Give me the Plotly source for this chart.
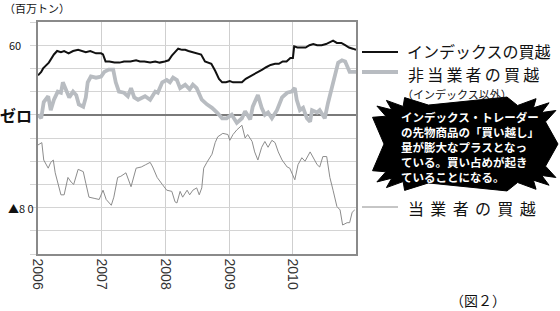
import math
import plotly.graph_objects as go

# ---------------- data (years since 2006, million tons) ----------------
idx_t = [0.00, 0.05, 0.08, 0.14, 0.17, 0.25, 0.30, 0.36, 0.41, 0.48, 0.55, 0.63, 0.70, 0.75, 0.82,
         0.91, 0.99, 1.02, 1.06, 1.12, 1.20, 1.28, 1.35, 1.45, 1.54, 1.60, 1.67, 1.76, 1.84, 1.91,
         1.99, 2.05, 2.10, 2.16, 2.20, 2.26, 2.31, 2.36, 2.42, 2.50, 2.56, 2.62, 2.67, 2.72, 2.78,
         2.84, 2.89, 2.95, 3.01, 3.06, 3.13, 3.20, 3.26, 3.33, 3.40, 3.45, 3.52, 3.58, 3.65, 3.72,
         3.78, 3.84, 3.90, 3.96, 4.00, 4.02, 4.07, 4.14, 4.20, 4.26, 4.32, 4.38, 4.45, 4.52, 4.58,
         4.63, 4.69, 4.76, 4.82, 4.88, 4.94, 4.99]
idx_v = [34, 37, 40, 43, 45, 52, 55, 54, 55, 53, 55, 56, 55, 54, 55,
         53, 53, 52, 46, 46, 45, 45, 46, 46, 47, 46, 46, 45, 46, 45,
         46, 47, 51, 55, 57, 56, 56, 55, 54, 53, 52, 46, 45, 44, 38,
         31, 28, 28, 29, 28, 28, 28, 31, 33, 35, 37, 39, 41, 43, 44,
         44, 46, 46, 49, 49, 59, 58, 58, 58, 60, 61, 60, 60, 61, 63,
         64, 62, 62, 60, 58, 57, 56]

nc_t = [0.00, 0.05, 0.09, 0.16, 0.20, 0.25, 0.31, 0.36, 0.39, 0.44, 0.49, 0.55, 0.60, 0.64, 0.71,
        0.75, 0.78, 0.83, 0.91, 0.99, 1.04, 1.11, 1.18, 1.22, 1.27, 1.35, 1.41, 1.46, 1.51, 1.57,
        1.65, 1.68, 1.76, 1.84, 1.88, 1.95, 2.02, 2.07, 2.12, 2.18, 2.23, 2.31, 2.38, 2.43, 2.49,
        2.57, 2.65, 2.73, 2.81, 2.89, 2.96, 3.04, 3.12, 3.20, 3.25, 3.33, 3.37, 3.45, 3.51, 3.56,
        3.61, 3.67, 3.75, 3.83, 3.91, 3.98, 4.03, 4.06, 4.11, 4.16, 4.22, 4.27, 4.30, 4.38, 4.42,
        4.50, 4.55, 4.61, 4.66, 4.71, 4.77, 4.82, 4.89, 4.94, 4.99]
nc_v = [0, -3, 11, 16, 4, 13, 20, 19, 28, 22, 15, 20, 17, 9, 7,
        15, 28, 33, 32, 33, 37, 39, 39, 28, 20, 19, 16, 23, 15, 13,
        15, 16, 13, 20, 19, 28, 30, 28, 32, 30, 23, 26, 22, 26, 23,
        13, 9, 6, 2, -3, -3, 0, -7, -3, 3, -4, 7, 17, 6, 0,
        2, -3, 4, 15, 19, 20, 23, 13, 4, 6, -3, -6, 4, 2, 4,
        -3, 10, 24, 36, 45, 47, 46, 37, 37, 37]

com_t = [0.00, 0.06, 0.09, 0.16, 0.20, 0.24, 0.27, 0.31, 0.36, 0.41, 0.47, 0.52, 0.56, 0.63, 0.71,
         0.75, 0.80, 0.88, 0.96, 1.02, 1.07, 1.15, 1.19, 1.25, 1.30, 1.38, 1.46, 1.54, 1.62, 1.69,
         1.76, 1.80, 1.87, 1.95, 2.02, 2.10, 2.15, 2.18, 2.23, 2.27, 2.34, 2.38, 2.43, 2.49, 2.53,
         2.57, 2.60, 2.65, 2.73, 2.78, 2.82, 2.90, 2.98, 3.01, 3.06, 3.12, 3.20, 3.25, 3.29, 3.36,
         3.40, 3.45, 3.51, 3.56, 3.61, 3.67, 3.72, 3.77, 3.83, 3.91, 3.95, 4.03, 4.08, 4.14, 4.19,
         4.27, 4.31, 4.38, 4.42, 4.47, 4.53, 4.58, 4.63, 4.69, 4.74, 4.78, 4.85, 4.89, 4.93, 4.97]
com_v = [-26, -24, -39, -46, -41, -39, -50, -58, -69, -69, -54, -58, -60, -47, -49,
         -59, -71, -72, -73, -65, -73, -78, -71, -54, -53, -50, -62, -46, -45, -43,
         -41, -45, -54, -60, -65, -66, -75, -76, -66, -71, -65, -69, -65, -63, -69,
         -63, -46, -41, -34, -24, -19, -16, -17, -22, -17, -13, -9, -20, -17, -23,
         -32, -39, -28, -23, -28, -22, -24, -32, -39, -45, -46, -56, -43, -37, -40,
         -32, -36, -43, -45, -36, -36, -54, -65, -79, -82, -95, -93, -93, -84, -82]

base_year = 2006
year_ticks = [2006, 2007, 2008, 2009, 2010]
year_labels = ["2006", "2007", "2008", "2009", "2010"]

legend_index = "インデックスの買越"
legend_nc = "非当業者の買越"
legend_nc_sub = "（インデックス以外）"
legend_com = "当業者の買越"
callout = ("インデックス・トレーダー<br>の先物商品の「買い越し」<br>量が膨大なプラスとなっ<br>"
           "ている。買い占めが起き<br>ていることになる。")
unit_label = "（百万トン）"
fig_label = "（図２）"

FONT = "Noto Sans CJK JP, Noto Sans, sans-serif"

# ---------------- figure ----------------
W, H = 560, 311
L, R, T, B = 38, 204, 22, 57
PW, PH = W - L - R, H - T - B


def px2paper(x, y):
    return (x - L) / PW, (H - B - y) / PH


def spaced(text, sep):
    return sep.join(list(text))


fig = go.Figure()
fig.add_trace(go.Scatter(x=[base_year + t for t in com_t], y=com_v, mode="lines",
                         line=dict(color="#8c8c8c", width=1), hoverinfo="skip"))
fig.add_trace(go.Scatter(x=[base_year + t for t in nc_t], y=nc_v, mode="lines",
                         line=dict(color="#b8bcc1", width=3.8), hoverinfo="skip"))
fig.add_trace(go.Scatter(x=[base_year + t for t in idx_t], y=idx_v, mode="lines",
                         line=dict(color="#111111", width=2), hoverinfo="skip"))

shapes = []
# legend lines
for (y_px, col, w) in [(52, "#111111", 2), (72, "#b8bcc1", 3.8), (207, "#8c8c8c", 1)]:
    x0, yy = px2paper(362, y_px)
    x1, _ = px2paper(398, y_px)
    shapes.append(dict(type="line", xref="paper", yref="paper", x0=x0, x1=x1, y0=yy, y1=yy,
                       line=dict(color=col, width=w)))

# starburst callout
cx, cy = 465, 144
N = 34
pts = []
for i in range(N):
    th = 2 * math.pi * i / N
    if i % 2 == 0:
        a, b = 93, 47
    else:
        a, b = 81, 39
    c, s = math.cos(th), math.sin(th)
    n = 6.0
    xx = cx + a * math.copysign(abs(c) ** (2 / n), c)
    yy = cy + b * math.copysign(abs(s) ** (2 / n), s)
    pts.append(px2paper(xx, yy))
path = "M " + " L ".join(f"{p[0]:.4f},{p[1]:.4f}" for p in pts) + " Z"
shapes.append(dict(type="path", xref="paper", yref="paper", path=path,
                   fillcolor="#000000", line=dict(color="#000000", width=1)))

fig.update_layout(shapes=shapes)

ann = []


def add_text(text, x_px, y_px, size, xanchor="left", color="#111", bold=False, align="left"):
    x, y = px2paper(x_px, y_px)
    ann.append(dict(text=f"<b>{text}</b>" if bold else text, x=x, y=y, xref="paper", yref="paper",
                    xanchor=xanchor, yanchor="middle", showarrow=False, align=align,
                    font=dict(family=FONT, size=size, color=color)))


add_text(legend_index, 405, 51, 16)
add_text(spaced(legend_nc, "\u2009"), 406, 74, 16)
add_text(legend_nc_sub, 400, 94, 11)
add_text(spaced(legend_com, "\u2004\u200a"), 406, 208, 16)
add_text(callout, 470, 147, 11.5, xanchor="center", color="#ffffff", bold=True)
add_text(unit_label, 2, 8, 11)
add_text(fig_label, 478, 300, 14, xanchor="center")
add_text("60", 23, 45, 11, xanchor="right")
add_text("ゼロ", 34, 115, 16, xanchor="right", bold=True)
add_text("▲8 0", 36, 208, 11, xanchor="right")

fig.update_layout(annotations=ann)

fig.update_layout(
    width=W, height=H,
    margin=dict(l=L, r=R, t=T, b=B, pad=0),
    paper_bgcolor="white", plot_bgcolor="white",
    showlegend=False,
    font=dict(family=FONT, color="#222"),
    xaxis=dict(range=[2006, 2010.99], tickvals=year_ticks, ticktext=year_labels,
               tickangle=90, tickfont=dict(size=14, family="Liberation Sans, Arial", color="#333"),
               showgrid=True, gridcolor="#cfcfcf", gridwidth=1,
               showline=True, linecolor="#8a8a8a", linewidth=1.5, mirror=True,
               ticks="", zeroline=False, fixedrange=True),
    yaxis=dict(range=[-120, 80], dtick=20, tick0=0, showticklabels=False,
               showgrid=True, gridcolor="#d4d4d4", gridwidth=1,
               zeroline=True, zerolinecolor="#7a7a7a", zerolinewidth=2,
               ticks="outside", ticklen=6, tickcolor="#d4d4d4", tickwidth=1,
               showline=True, linecolor="#8a8a8a", linewidth=1.5, mirror=True,
               fixedrange=True),
)

fig.write_html("out.html")
